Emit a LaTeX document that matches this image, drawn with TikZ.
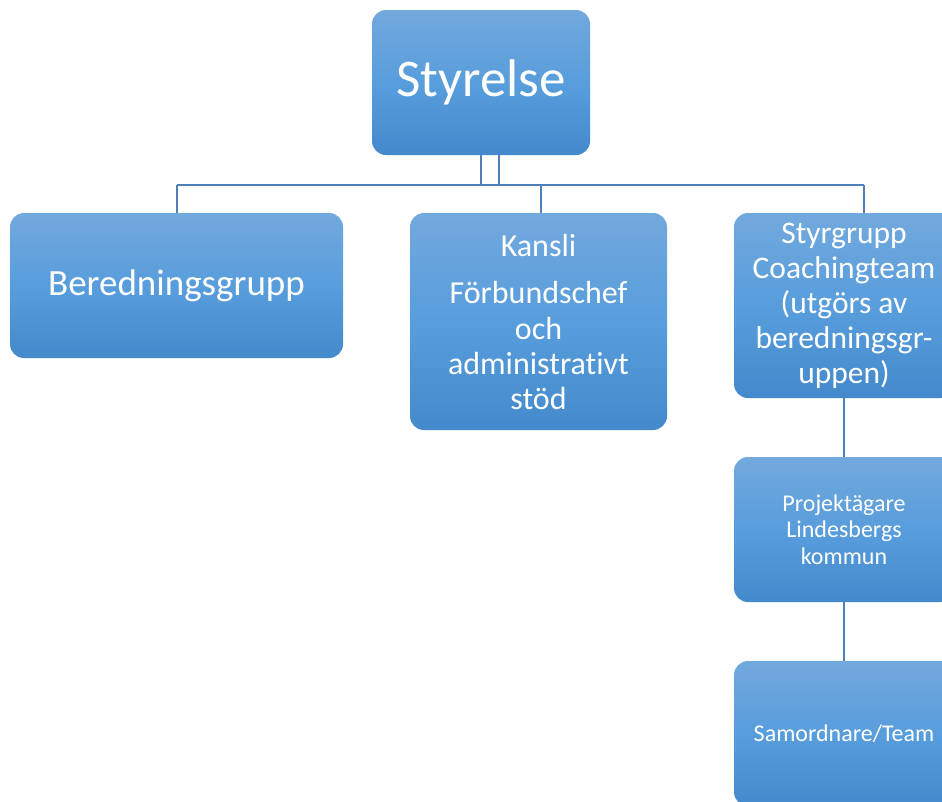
\documentclass[tikz,border=0pt]{standalone}
\usepackage{fontspec}
\setmainfont[Ligatures=NoCommon]{Carlito}
\definecolor{boxtop}{RGB}{114,169,221}
\definecolor{boxmid}{RGB}{88,157,220}
\definecolor{boxbot}{RGB}{68,137,203}
\definecolor{linjeblue}{RGB}{79,127,186}
\tikzset{
	orgbox/.style={rectangle, rounded corners=14pt, top color=boxtop, bottom color=boxbot, middle color=boxmid,
		text=white, align=center, inner sep=0pt, minimum width=#1},
	orgbox/.default=220pt,
	linje/.style={linjeblue, line width=1.1pt}
}
\begin{document}
\begin{tikzpicture}[x=1pt, y=-1pt]
		\clip (0,0) rectangle (942,801);
		\fill [white] (0,0) rectangle (942,801);
		\node [orgbox=218pt, minimum height=145pt, font=\fontsize{53}{60}\selectfont] (styrelse) at (481,82.5) {Styrelse};
		\node [orgbox=333pt, minimum height=145pt, font=\fontsize{37}{43}\selectfont] (bered) at (176.5,285.5) {Beredningsgrupp};
		\node [orgbox=257pt, minimum height=217pt, font=\fontsize{32}{35}\selectfont] (kansli) at (538.5,321.5) {Kansli\\[13pt]Förbundschef\\och\\administrativt\\stöd};
		\node [orgbox=220pt, minimum height=185pt, font=\fontsize{31.5}{35}\selectfont] (styrgrupp) at (844,305.5) {Styrgrupp\\Coachingteam\\(utgörs av\\beredningsgr-\\uppen)};
		\node [orgbox=220pt, minimum height=145pt, font=\fontsize{24}{26.7}\selectfont] (projekt) at (844,529.5) {Projektägare\\Lindesbergs\\kommun};
		\node [orgbox=220pt, minimum height=145pt, font=\fontsize{24}{28}\selectfont] (samord) at (844,733.5) {Samordnare/Team};
		% connectors
		\coordinate (busL) at (177,185);
		\coordinate (busR) at (864,185);
		\draw [linje] (busL) -- (busR);
		\draw [linje] (styrelse.south) -- (styrelse.south |- busL);
		\draw [linje] ([xshift=18pt]styrelse.south) |- ([xshift=2.5pt]kansli.north |- busL) -- ([xshift=2.5pt]kansli.north);
		\draw [linje] (busL) -- (busL |- bered.north);
		\draw [linje] (busR) -- (busR |- styrgrupp.north);
		\draw [linje] (styrgrupp.south) -- (projekt.north);
		\draw [linje] (projekt.south) -- (samord.north);
	\end{tikzpicture}
\end{document}
